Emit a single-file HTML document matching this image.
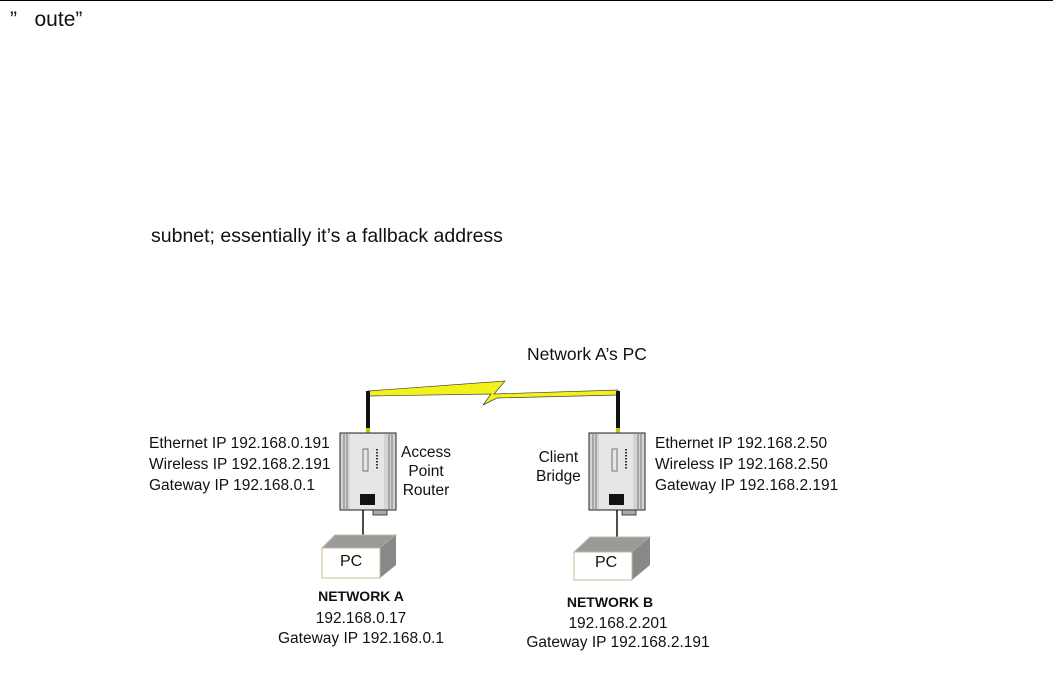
<!DOCTYPE html>
<html><head><meta charset="utf-8"><style>
html,body{margin:0;padding:0;background:#fff;}
body{width:1053px;height:693px;position:relative;overflow:hidden;font-family:"Liberation Sans",sans-serif;color:#111;}
.t{position:absolute;white-space:nowrap;}
.s14{font-size:15.5px;line-height:21px;}
</style></head><body>
<div style="position:absolute;left:0;top:0;width:1053px;height:1px;background:#000"></div>
<div class="t" style="left:10px;top:8px;font-size:21px;">”&nbsp;&nbsp;&nbsp;oute”</div>
<div class="t" style="left:151px;top:225px;font-size:19.5px;">subnet; essentially it’s a fallback address</div>
<div class="t" style="left:527px;top:344px;font-size:17.5px;">Network A’s PC</div>

<svg width="1053" height="693" style="position:absolute;left:0;top:0">
 <polygon points="368,391 505,381 494,394 618,390 618,395 497,398 483,405 491,394 368,396" fill="#f2f21a" stroke="#444" stroke-width="0.7"/>
 <rect x="366" y="391" width="4" height="37" fill="#111"/>
 <rect x="366" y="428" width="4" height="5" fill="#c8c800"/>
 <rect x="616" y="391" width="4" height="37" fill="#111"/>
 <rect x="616" y="428" width="4" height="5" fill="#c8c800"/>
 <g id="d1">
  <rect x="340" y="433" width="56" height="77" fill="#d4d4d4" stroke="#222"/>
  <line x1="344" y1="434" x2="344" y2="509" stroke="#777"/><line x1="347" y1="434" x2="347" y2="509" stroke="#777"/>
  <line x1="389" y1="434" x2="389" y2="509" stroke="#777"/><line x1="392" y1="434" x2="392" y2="509" stroke="#777"/>
  <rect x="350" y="434" width="34" height="75" fill="#e6e6e6"/>
  <rect x="363" y="449" width="5" height="22" fill="none" stroke="#555" stroke-width="0.8"/>
  <line x1="377" y1="449" x2="377" y2="470" stroke="#333" stroke-width="2" stroke-dasharray="1.5,1.5"/>
  <rect x="360" y="494" width="15" height="11" fill="#111"/>
  <rect x="373" y="510" width="14" height="5" fill="#aaa" stroke="#222" stroke-width="0.8"/>
 </g>
 <use href="#d1" x="249" y="0"/>
 <line x1="363" y1="510" x2="363" y2="535" stroke="#111" stroke-width="1.5"/>
 <line x1="617" y1="510" x2="617" y2="537" stroke="#111" stroke-width="1.5"/>
 <polygon points="322,548 335,535 396,535 380,548" fill="#9a9a9a" stroke="#c8b89a"/>
 <polygon points="380,548 396,535 396,565 380,578" fill="#888"/>
 <rect x="322" y="548" width="58" height="30" fill="#fff" stroke="#c8b89a"/>
 <polygon points="574,552 590,537 650,537 632,552" fill="#9a9a9a" stroke="#c8b89a"/>
 <polygon points="632,552 650,537 650,565 632,580" fill="#888"/>
 <rect x="574" y="552" width="58" height="28" fill="#fff" stroke="#c8b89a"/>
</svg>

<div class="t" style="left:340px;top:553px;font-size:16px;">PC</div>
<div class="t" style="left:595px;top:554px;font-size:16px;">PC</div>

<div class="t s14" style="left:149px;top:433px;">Ethernet IP 192.168.0.191<br>Wireless IP 192.168.2.191<br>Gateway IP 192.168.0.1</div>
<div class="t s14" style="left:401px;top:443px;text-align:center;line-height:19px;">Access<br>Point<br>Router</div>
<div class="t s14" style="left:536px;top:448px;text-align:center;line-height:19px;">Client<br>Bridge</div>
<div class="t s14" style="left:655px;top:433px;">Ethernet IP 192.168.2.50<br>Wireless IP 192.168.2.50<br>Gateway IP 192.168.2.191</div>

<div class="t" style="left:311px;top:588px;width:100px;text-align:center;font-size:14px;font-weight:bold;">NETWORK A</div>
<div class="t s14" style="left:261px;top:609px;width:200px;text-align:center;line-height:20px;">192.168.0.17<br>Gateway IP 192.168.0.1</div>
<div class="t" style="left:560px;top:594px;width:100px;text-align:center;font-size:14px;font-weight:bold;">NETWORK B</div>
<div class="t s14" style="left:518px;top:614px;width:200px;text-align:center;line-height:19px;">192.168.2.201<br>Gateway IP 192.168.2.191</div>
</body></html>
